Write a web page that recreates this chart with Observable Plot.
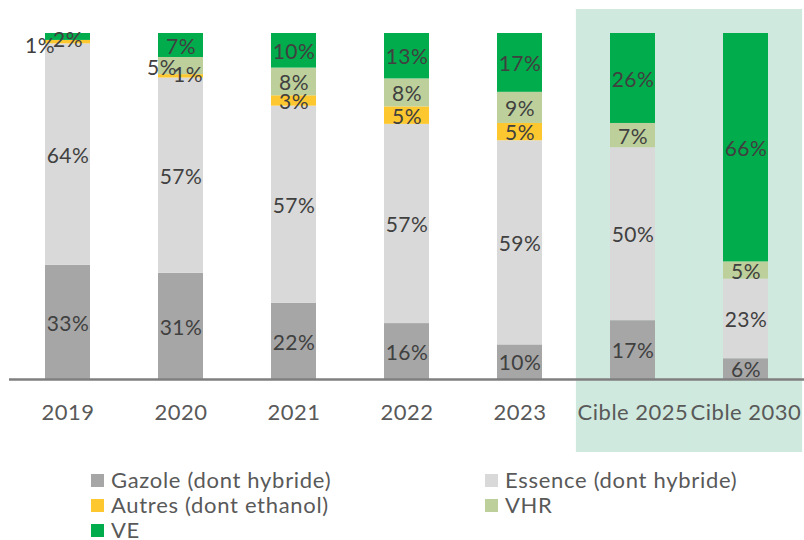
<!DOCTYPE html>
<html>
<head>
<meta charset="utf-8">
<script src="https://cdn.jsdelivr.net/npm/d3@7"></script>
<script src="https://cdn.jsdelivr.net/npm/@observablehq/plot@0.6"></script>
<style>
  body { margin: 0; background: #fff; font-family: Lato, "Open Sans", sans-serif; }
  #chart { position: relative; width: 804px; }
  .legend { position: relative; width: 804px; height: 80px; font-size: 22px; color: #595959; letter-spacing: 0.7px; }
  .legend .item { position: absolute; display: flex; align-items: center; white-space: nowrap; height: 20px; line-height: 20px; }
  .legend .sw { width: 13px; height: 13px; margin-right: 7px; }
</style>
</head>
<body>
<div id="chart"></div>
<div class="legend" id="legend"></div>
<script>
const years = ["2019", "2020", "2021", "2022", "2023", "Cible 2025", "Cible 2030"];
const categories = ["Gazole (dont hybride)", "Essence (dont hybride)", "Autres (dont ethanol)", "VHR", "VE"];
const colors = ["#a6a6a6", "#d9d9d9", "#fdc82f", "#bdd09b", "#00ac4c"];
const gazole  = [33, 31, 22, 16, 10, 17, 6];
const essence = [64, 57, 57, 57, 59, 50, 23];
const autres  = [1, 1, 3, 5, 5, 0, 0];
const vhr     = [0, 5, 8, 8, 9, 7, 5];
const ve      = [2, 7, 10, 13, 17, 26, 66];
const targetYears = ["Cible 2025", "Cible 2030"];

const series = [gazole, essence, autres, vhr, ve];
const rows = [];
years.forEach((yr, i) => {
  categories.forEach((cat, j) => {
    rows.push({year: yr, cat, value: series[j][i]});
  });
});

// labels drawn with an offset (overlapping small segments)
const special = {
  "2019|Autres (dont ethanol)": {dx: -28, dy: 4},
  "2019|VE": {dx: 0, dy: 3},
  "2020|VHR": {dx: -19, dy: 2},
  "2020|Autres (dont ethanol)": {dx: 7, dy: -1}
};
const key = d => d.year + "|" + d.cat;

const stackOpts = {offset: "normalize", order: categories};
const normalText = Plot.text(rows, Plot.stackY(stackOpts, {
  x: "year", y: "value", z: "cat",
  text: d => (d.value > 0 && !special[key(d)]) ? d.value + "%" : null,
  fill: "#404040", fontSize: 21, dy: 1.5
}));
const specialMarks = Object.entries(special).map(([k, off]) =>
  Plot.text(rows, Plot.stackY(stackOpts, {
    x: "year", y: "value", z: "cat",
    text: d => key(d) === k ? d.value + "%" : null,
    fill: "#404040", fontSize: 21, dx: off.dx, dy: off.dy
  }))
);

const chart = Plot.plot({
  width: 804,
  height: 460,
  marginLeft: 9,
  marginRight: 0,
  marginTop: 33,
  marginBottom: 81,
  style: {fontFamily: "Lato, 'Open Sans', sans-serif", background: "transparent"},
  x: {domain: years, padding: 0.6, paddingOuter: 0.3, label: null, tickSize: 0, tickPadding: 25},
  y: {domain: [0, 1], axis: null},
  color: {domain: categories, range: colors},
  marks: [
    Plot.barY(targetYears, {
      x: d => d, y1: 0, y2: 1, fill: "#cfe9de",
      insetLeft: -34.1, insetRight: -34.1, insetTop: -24, insetBottom: -73
    }),
    Plot.barY(rows, Plot.stackY(stackOpts, {
      x: "year", y: "value", z: "cat", fill: "cat"
    })),
    Plot.ruleY([0], {stroke: "#7f7f7f", strokeWidth: 2.5}),
    normalText,
    ...specialMarks,
    Plot.axisX({tickSize: 0, tickPadding: 25, fontSize: 22, fill: "#595959", label: null})
  ]
});
chart.querySelectorAll("text").forEach(t => t.style.letterSpacing = "0.5px");
document.getElementById("chart").appendChild(chart);

// legend
const legendPos = [
  {left: 91, top: 10}, {left: 485, top: 10},
  {left: 91, top: 35}, {left: 485, top: 35},
  {left: 91, top: 60}
];
const legend = document.getElementById("legend");
categories.forEach((cat, j) => {
  const it = document.createElement("div");
  it.className = "item";
  it.style.left = legendPos[j].left + "px";
  it.style.top = legendPos[j].top + "px";
  it.innerHTML = `<span class="sw" style="background:${colors[j]}"></span><span>${cat}</span>`;
  legend.appendChild(it);
});
</script>
</body>
</html>
